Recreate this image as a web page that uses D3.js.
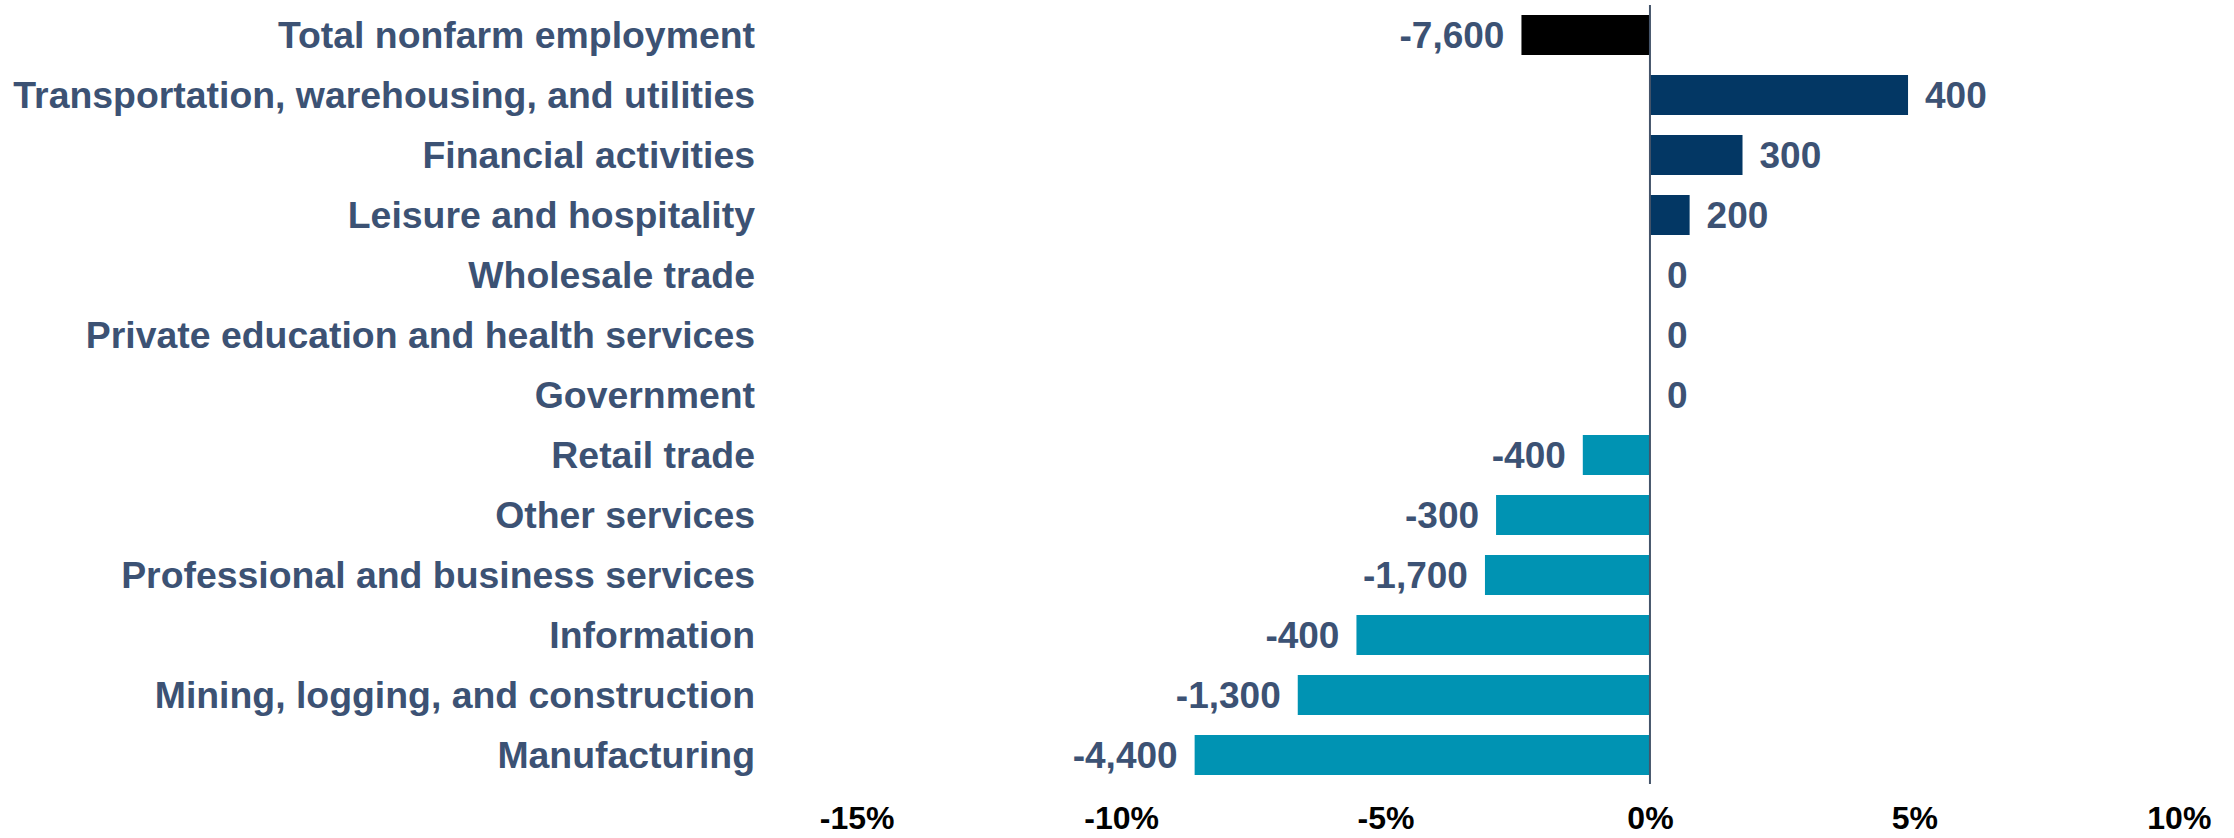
<!DOCTYPE html>
<html>

<head>
  <meta charset='utf-8'>
  <style>
    body { margin: 0; background: #fff; }
    svg { display: block; }
    text { font-family: "Liberation Sans", Arial, sans-serif; font-weight: bold; }
  </style>
  <script type="text/javascript" src="https://cdn.jsdelivr.net/npm/d3@7"></script>
</head>

<body>
  <script type='module'>
    const categories = [
      "Total nonfarm employment",
      "Transportation, warehousing, and utilities",
      "Financial activities",
      "Leisure and hospitality",
      "Wholesale trade",
      "Private education and health services",
      "Government",
      "Retail trade",
      "Other services",
      "Professional and business services",
      "Information",
      "Mining, logging, and construction",
      "Manufacturing"
    ];
    // percent change (bar length)
    const pctChange = [-2.43, 4.88, 1.75, 0.75, 0, 0, 0, -1.27, -2.91, -3.12, -5.55, -6.66, -8.61];
    // job change (label)
    const jobChange = [-7600, 400, 300, 200, 0, 0, 0, -400, -300, -1700, -400, -1300, -4400];
    const xTicks = [-15, -10, -5, 0, 5, 10];

    let [width, height] = [2234, 838]
    const svg = d3.select("body").append("svg")
      .attr("width", width)
      .attr("height", height)
      .attr("viewBox", [0, 0, width, height]);

    const x = d3.scaleLinear().domain([-15, 10]).range([856.7, 2178.8]);
    const y = d3.scaleBand().domain(categories).range([5, 785])
      .paddingInner(1 / 3).paddingOuter(1 / 6);

    const rows = categories.map((c, i) => ({ c, v: pctChange[i], n: jobChange[i], i }));
    const fill = d => d.i === 0 ? "#000000" : d.v >= 0 ? "#033764" : "#0093b3";

    svg.append("g").selectAll("rect")
      .data(rows.filter(d => d.v !== 0))
      .join("rect")
      .attr("x", d => x(Math.min(0, d.v)))
      .attr("y", d => y(d.c))
      .attr("width", d => Math.abs(x(d.v) - x(0)))
      .attr("height", y.bandwidth())
      .attr("fill", fill);

    // zero line
    svg.append("line")
      .attr("x1", x(0)).attr("x2", x(0))
      .attr("y1", 5).attr("y2", 784)
      .attr("stroke", "#44546a")
      .attr("stroke-width", 2);

    // category labels
    svg.append("g").selectAll("text")
      .data(rows)
      .join("text")
      .attr("x", 755)
      .attr("y", d => y(d.c) + y.bandwidth() / 2)
      .attr("dy", "0.35em")
      .attr("text-anchor", "end")
      .attr("font-size", 37.4)
      .attr("fill", "#3c5274")
      .text(d => d.c);

    // value labels
    svg.append("g").selectAll("text")
      .data(rows)
      .join("text")
      .attr("x", d => d.v >= 0 ? x(d.v) + 17 : x(d.v) - 17)
      .attr("y", d => y(d.c) + y.bandwidth() / 2)
      .attr("dy", "0.35em")
      .attr("text-anchor", d => d.v >= 0 ? "start" : "end")
      .attr("font-size", 37)
      .attr("fill", "#3c5274")
      .text(d => d.n.toLocaleString("en-US"));

    // x axis tick labels
    const xAxis = d3.axisBottom(x).tickValues(xTicks).tickSize(0).tickPadding(0)
      .tickFormat(d => d + "%");
    svg.append("g")
      .attr("transform", "translate(0,806)")
      .call(xAxis)
      .call(g => g.select(".domain").remove())
      .call(g => g.selectAll("text")
        .attr("font-size", 32)
        .attr("font-family", "'Liberation Sans', Arial, sans-serif")
        .attr("fill", "#000"));
  </script>
</body>

</html>
